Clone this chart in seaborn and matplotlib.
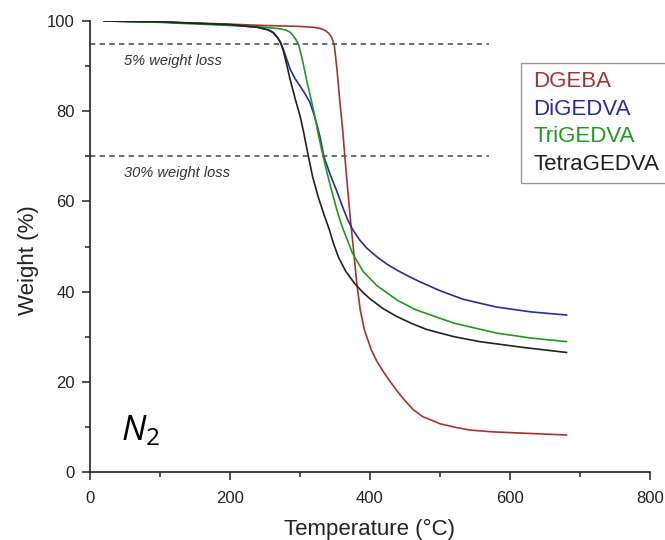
import numpy as np
import pandas as pd
import matplotlib
matplotlib.use("Agg")
import matplotlib.pyplot as plt
import seaborn as sns

# ---------------- data ----------------
series_names = ["DGEBA", "DiGEDVA", "TriGEDVA", "TetraGEDVA"]

dgeba_T = [20, 100, 200, 250, 300, 320, 330, 336, 341, 345, 349, 353, 357, 361, 364,
           368, 372, 376, 381, 386, 392, 402, 410, 420, 430, 440, 450, 462, 475, 500,
           525, 543, 575, 620, 681]
dgeba_W = [100, 99.8, 99.3, 99.0, 98.8, 98.6, 98.3, 97.9, 97.3, 96.4, 94.7, 89.0, 82.0,
           75.8, 70.0, 63.0, 56.0, 50.0, 42.0, 36.0, 31.5, 27.0, 24.5, 22.0, 19.8, 17.7,
           15.8, 13.8, 12.3, 10.7, 9.8, 9.3, 8.9, 8.6, 8.2]

digedva_T = [20, 100, 200, 240, 255, 262, 268, 272, 276, 280, 286, 293, 300, 307, 314,
             320, 325, 329, 334, 343, 352, 362, 368, 375, 385, 395, 410, 425, 438, 455,
             471, 500, 533, 580, 630, 681]
digedva_W = [100, 99.8, 99.2, 98.6, 98.0, 97.4, 96.3, 95.3, 93.8, 92.0, 89.3, 87.2, 85.6,
             83.9, 82.0, 79.3, 76.5, 74.0, 70.0, 66.0, 62.5, 58.3, 56.0, 53.8, 51.5, 49.7,
             47.7, 46.0, 44.8, 43.4, 42.2, 40.2, 38.3, 36.6, 35.5, 34.8]

trigedva_T = [20, 100, 200, 250, 270, 280, 286, 290, 294, 298, 304, 310, 316, 321, 326,
              333, 340, 345, 352, 357, 362, 375, 390, 410, 440, 465, 520, 581, 630, 681]
trigedva_W = [100, 99.7, 99.0, 98.6, 98.3, 98.0, 97.5, 96.8, 95.9, 94.8, 91.0, 86.5, 82.5,
              79.0, 75.0, 70.0, 65.5, 62.5, 58.5, 55.9, 53.7, 48.5, 44.5, 41.3, 38.0, 36.0,
              33.0, 30.8, 29.7, 28.9]

tetragedva_T = [20, 100, 200, 240, 255, 262, 268, 272, 276, 280, 286, 293, 300, 305, 309,
                312, 318, 326, 334, 342, 348, 355, 365, 378, 390, 400, 419, 438, 460, 481,
                520, 557, 620, 681]
tetragedva_W = [100, 99.8, 99.2, 98.6, 98.0, 97.4, 96.3, 95.3, 93.5, 91.0, 87.0, 82.8, 79.0,
                75.5, 72.3, 70.0, 65.5, 61.0, 57.2, 53.7, 50.6, 47.6, 44.6, 41.8, 39.8, 38.4,
                36.2, 34.5, 32.9, 31.6, 30.0, 28.9, 27.6, 26.5]

loss_levels = [95, 70]
loss_labels = ["5% weight loss", "30% weight loss"]

x_ticks = [0, 200, 400, 600, 800]
y_ticks = [0, 20, 40, 60, 80, 100]

colors = ["#a83232", "#2a2aa8", "#1f9a1f", "#222222"]

# ---------------- build table ----------------
frames = []
for name, T, W in zip(series_names,
                      [dgeba_T, digedva_T, trigedva_T, tetragedva_T],
                      [dgeba_W, digedva_W, trigedva_W, tetragedva_W]):
    frames.append(pd.DataFrame({"Temperature": T, "Weight": W, "Sample": name}))
df = pd.concat(frames, ignore_index=True)

# ---------------- plot ----------------
sns.set_theme(style="ticks")
plt.rcParams["font.family"] = ["Liberation Sans", "DejaVu Sans"]
plt.rcParams["mathtext.fontset"] = "custom"
plt.rcParams["mathtext.it"] = "Open Sans:italic"
plt.rcParams["mathtext.rm"] = "Open Sans"

fig = plt.figure(figsize=(6.65, 5.4), dpi=100)
ax = fig.add_axes([90 / 665, 1 - 472 / 540, 560 / 665, 451 / 540])

sns.lineplot(data=df, x="Temperature", y="Weight", hue="Sample",
             hue_order=series_names, palette=colors, sort=False,
             estimator=None, linewidth=1.2, legend=False, ax=ax)

for lvl, lab in zip(loss_levels, loss_labels):
    ax.hlines(lvl, 0, 570, colors="#555555", linestyles=(0, (3.2, 2.6)), linewidth=1.2)
    ax.text(49, lvl - 3.8, lab, fontsize=10.5, style="italic", color="#333333",
            ha="left", va="center")

ax.text(44, 7, r"$\mathit{N}_{\mathit{2}}$", fontsize=25, color="black",
        ha="left", va="baseline")

ax.set_xlim(0, 800)
ax.set_ylim(0, 100)
ax.set_xticks(x_ticks)
ax.set_yticks(y_ticks)
ax.set_xticks([100, 300, 500, 700], minor=True)
ax.set_yticks([10, 30, 50, 70, 90], minor=True)
ax.tick_params(axis="both", which="major", length=6, width=1.1, direction="out",
               labelsize=12, pad=5, color="#222222", labelcolor="#222222")
ax.tick_params(axis="x", which="major", pad=8)
ax.tick_params(axis="both", which="minor", length=3.5, width=1.1, direction="out",
               color="#222222")
sns.despine(ax=ax)
for s in ["left", "bottom"]:
    ax.spines[s].set_linewidth(1.2)
    ax.spines[s].set_color("#222222")

ax.set_xlabel("Temperature (°C)", fontsize=16, color="#222222", labelpad=9)
ax.set_ylabel("Weight (%)", fontsize=16, color="#222222")
ax.yaxis.set_label_coords(-0.091, 0.47)

handles = [plt.Line2D([], [], color=c, linewidth=0) for c in colors]
leg = ax.legend(handles, series_names, loc="upper left", bbox_to_anchor=(0.77, 0.907),
                frameon=True, fancybox=False, handlelength=0, handletextpad=0.18,
                fontsize=16, labelspacing=0.3, borderpad=0.36, borderaxespad=0,
                labelcolor=colors)
leg.get_frame().set_edgecolor("#808080")
leg.get_frame().set_linewidth(1.0)

fig.savefig("out.png", dpi=100)
